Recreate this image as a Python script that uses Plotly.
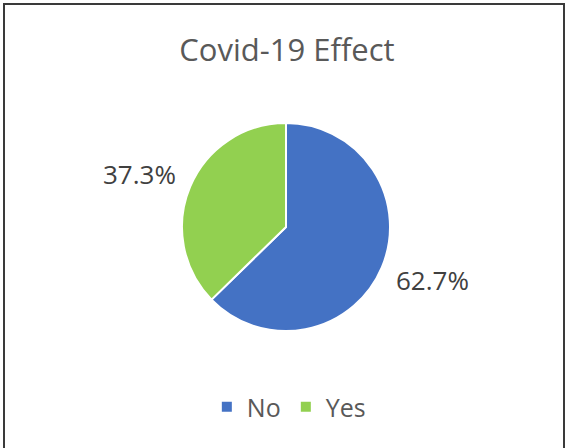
import math
import plotly.graph_objects as go

# Survey answers: was the respondent affected by Covid-19?
categories = ["No", "Yes"]
shares = [62.7, 37.3]
slice_colors = ["#4472C4", "#92D050"]

W, H = 566, 448
cx, cy, r = 286, 227, 104  # pie centre and radius in pixels (from top-left)

fig = go.Figure(
    go.Pie(
        labels=categories,
        values=shares,
        sort=False,
        direction="clockwise",
        rotation=0,
        marker=dict(colors=slice_colors, line=dict(color="white", width=2)),
        textinfo="none",
        hoverinfo="label+percent",
        domain=dict(
            x=[(cx - r) / W, (cx + r) / W],
            y=[(H - cy - r) / H, (H - cy + r) / H],
        ),
        automargin=False,
    )
)

# Percentage labels sit outside the pie, along each slice's mid-angle
total = sum(shares)
annotations = []
start = 0.0
for share in shares:
    frac = share / total
    mid = (start + frac / 2) * 2 * math.pi  # clockwise from 12 o'clock
    start += frac
    px = cx + math.sin(mid) * r * 1.53
    py = cy - math.cos(mid) * r * 1.3
    annotations.append(
        dict(
            text=f"{frac * 100:.1f}%",
            x=px / W,
            y=1 - py / H,
            xref="paper",
            yref="paper",
            xanchor="center",
            yanchor="middle",
            showarrow=False,
            font=dict(family="Open Sans", size=26, color="#404040"),
        )
    )

fig.update_layout(
    width=W,
    height=H,
    margin=dict(l=0, r=0, t=0, b=0),
    paper_bgcolor="white",
    font=dict(family="Open Sans", color="#595959"),
    title=dict(
        text="Covid-19 Effect",
        x=0.507,
        xanchor="center",
        y=1 - 50 / H,
        yanchor="middle",
        yref="container",
        font=dict(family="Open Sans", size=31, color="#595959"),
    ),
    legend=dict(
        orientation="h",
        x=0.505,
        xanchor="center",
        y=41 / H,
        yanchor="middle",
        font=dict(family="Open Sans", size=25, color="#595959"),
        entrywidth=34,
        entrywidthmode="pixels",
    ),
    annotations=annotations,
    shapes=[
        dict(
            type="rect",
            xref="paper",
            yref="paper",
            x0=4 / W,
            x1=564 / W,
            y0=-0.02,
            y1=1 - 4 / H,
            line=dict(color="#3a3a3a", width=2),
            fillcolor="rgba(0,0,0,0)",
            layer="above",
        )
    ],
)

fig.write_html("out.html")
